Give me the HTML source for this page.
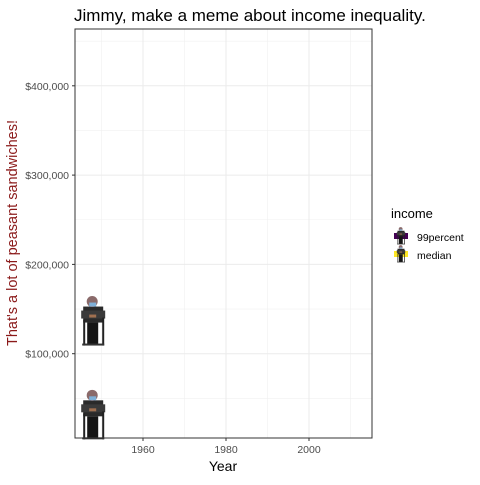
<!DOCTYPE html>
<html><head><meta charset="utf-8"><style>
body{margin:0;background:#fff;font-family:"Liberation Sans",sans-serif}
svg text{font-family:"Liberation Sans",sans-serif}
</style></head><body>
<svg width="480" height="480" viewBox="0 0 480 480">
<defs>
<g id="bernie">
  <rect x="-10" y="-15" width="20" height="16" fill="#2a2a2a"/>
  <rect x="-12" y="-11" width="24" height="8" fill="#3a3a3a"/>
  <circle cx="-1" cy="-20" r="5.5" fill="#8a6a6a"/>
  <rect x="-4" y="-19" width="7" height="4" fill="#7fb0d8"/>
  <rect x="-6" y="1" width="11" height="22" fill="#151515"/>
  <rect x="-10" y="-2" width="2" height="26" fill="#222"/>
  <rect x="9" y="-4" width="2" height="28" fill="#222"/>
  <rect x="-11" y="22" width="22" height="2" fill="#333"/>
  <rect x="-4" y="-7" width="7" height="3" fill="#a07050"/>
</g>
</defs>
<text x="74" y="21" font-size="17" fill="#000">Jimmy, make a meme about income inequality.</text>
<g id="grid"></g>
<rect x="75" y="29" width="297" height="409" fill="none" stroke="#333" stroke-width="1"/>
<g id="axes"></g>
<g id="marks"></g>
<text transform="translate(17,233) rotate(-90)" text-anchor="middle" font-size="14.5" fill="#8b1a1a">That's a lot of peasant sandwiches!</text>
<text x="223" y="471" text-anchor="middle" font-size="14" fill="#000">Year</text>
<g>
  <text x="391" y="218" font-size="13" fill="#000">income</text>
  <g>
    <rect x="394" y="233" width="14" height="6" fill="#440154"/>
    <use href="#bernie" transform="translate(401,236) scale(0.35)"/>
    <text x="417" y="241" font-size="10.5" fill="#000">99percent</text>
  </g>
  <g>
    <rect x="394" y="251" width="14" height="6" fill="#fde725"/>
    <use href="#bernie" transform="translate(401,254) scale(0.35)"/>
    <text x="417" y="259" font-size="10.5" fill="#000">median</text>
  </g>
</g>
</svg>
<script>
const categories=["99percent","median"];
const years=[1948,1948];
const values=[136000,31000];
const xTicks=[1960,1980,2000];
const xMinor=[1950,1970,1990,2010];
const yTicks=[100000,200000,300000,400000];
const yMinor=[50000,150000,250000,350000,450000];
const yTickLabels=["$100,000","$200,000","$300,000","$400,000"];
const X=v=>143+(v-1960)*4.15;
const Y=v=>443-v*0.000893;
const ns="http://www.w3.org/2000/svg";
const grid=document.getElementById('grid'),axes=document.getElementById('axes'),marks=document.getElementById('marks');
function mk(t,a,p){const e=document.createElementNS(ns,t);for(const k in a)e.setAttribute(k,a[k]);p.appendChild(e);return e;}
xMinor.forEach(v=>{const l=mk('line',{x1:X(v),x2:X(v),y1:29,y2:438,stroke:'#f0f0f0','stroke-width':0.6},grid);

});
yMinor.forEach(v=>{const l=mk('line',{x1:75,x2:372,y1:Y(v),y2:Y(v),stroke:'#f0f0f0','stroke-width':0.6},grid);

});
xTicks.forEach(v=>{const l=mk('line',{x1:X(v),x2:X(v),y1:29,y2:438,stroke:'#ebebeb','stroke-width':1},grid);


const t=mk('line',{x1:X(v),x2:X(v),y1:438,y2:441,stroke:'#333'},axes);


const tx=mk('text',{x:X(v),y:453,'text-anchor':'middle','font-size':'10.5',fill:'#4d4d4d'},axes);tx.textContent=v;

});
yTicks.forEach((v,i)=>{const l=mk('line',{x1:75,x2:372,y1:Y(v),y2:Y(v),stroke:'#ebebeb','stroke-width':1},grid);


const t=mk('line',{x1:72,x2:75,y1:Y(v),y2:Y(v),stroke:'#333'},axes);


const tx=mk('text',{x:69,y:Y(v)+4,'text-anchor':'end','font-size':'10.5',fill:'#4d4d4d'},axes);tx.textContent=yTickLabels[i];

});
categories.forEach((c,i)=>{const u=mk('use',{href:'#bernie',transform:`translate(${X(years[i])},${Y(values[i])})`},marks);

});
</script>
</body></html>
